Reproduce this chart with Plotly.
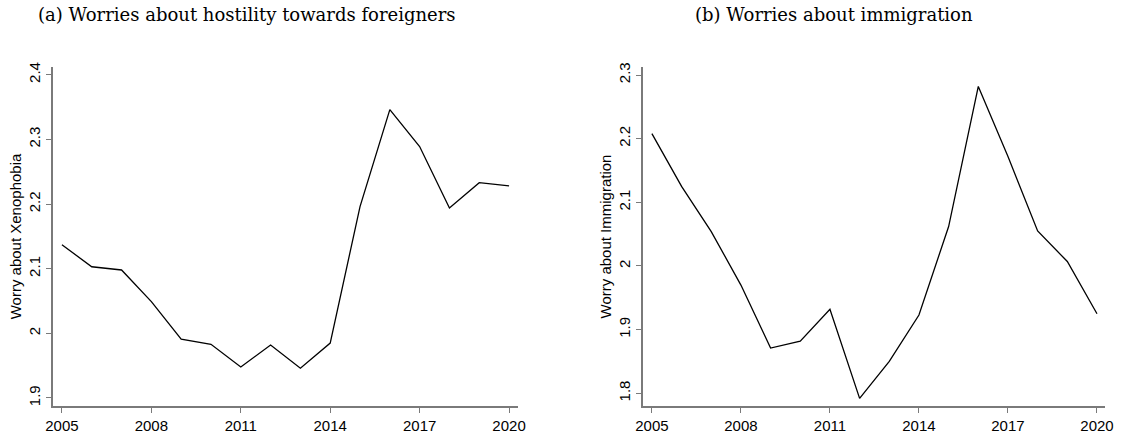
import plotly.graph_objects as go

# years on the x axis
years = list(range(2005, 2021))

# (a) worry about xenophobia
xeno = [2.137, 2.103, 2.098, 2.049, 1.991, 1.983, 1.948, 1.982,
        1.946, 1.985, 2.196, 2.346, 2.289, 2.194, 2.233, 2.228]

# (b) worry about immigration
immig = [2.208, 2.125, 2.054, 1.970, 1.871, 1.882, 1.932, 1.792,
         1.850, 1.923, 2.062, 2.282, 2.172, 2.055, 2.007, 1.925]

x_ticks = [2005, 2008, 2011, 2014, 2017, 2020]
y_ticks_a = [1.9, 2.0, 2.1, 2.2, 2.3, 2.4]
y_ticks_b = [1.8, 1.9, 2.0, 2.1, 2.2, 2.3]
y_labels_a = ["1.9", "2", "2.1", "2.2", "2.3", "2.4"]
y_labels_b = ["1.8", "1.9", "2", "2.1", "2.2", "2.3"]

W, H = 1132, 435
axis_col = "#7a7a7a"
sans = "Liberation Sans, Arial, sans-serif"
serif = "DejaVu Serif, serif"

fig = go.Figure()
fig.add_trace(go.Scatter(x=years, y=xeno, mode="lines", xaxis="x", yaxis="y",
                         line=dict(color="black", width=1.3), showlegend=False))
fig.add_trace(go.Scatter(x=years, y=immig, mode="lines", xaxis="x2", yaxis="y2",
                         line=dict(color="black", width=1.3), showlegend=False))

common_x = dict(tickmode="array", tickvals=x_ticks, ticks="outside", ticklen=5,
                tickcolor=axis_col, showline=True, linecolor=axis_col, linewidth=1.5,
                showgrid=False, zeroline=False, automargin=False,
                tickfont=dict(family=sans, size=15, color="black"))
common_y = dict(tickmode="array", ticks="outside", ticklen=5, tickangle=-90,
                tickcolor=axis_col, showline=True, linecolor=axis_col, linewidth=1.5,
                showgrid=False, zeroline=False, automargin=False,
                tickfont=dict(family=sans, size=15, color="black"),
                title_font=dict(family=sans, size=15, color="black"), title_standoff=1)

# plot areas in pixels (left, right, top, bottom)
box_a = (53, 518, 67, 406)
box_b = (643, 1105, 67, 406)

def xdom(b):
    return [b[0] / W, b[1] / W]

def ydom(b):
    return [1 - b[3] / H, 1 - b[2] / H]

fig.update_layout(
    width=W, height=H,
    margin=dict(l=0, r=0, t=0, b=0),
    paper_bgcolor="white", plot_bgcolor="white",
    xaxis=dict(domain=xdom(box_a), range=[2004.70, 2020.30], anchor="y", **common_x),
    xaxis2=dict(domain=xdom(box_b), range=[2004.70, 2020.27], anchor="y2", **common_x),
    yaxis=dict(domain=ydom(box_a), range=[1.8876, 2.412], anchor="x",
               tickvals=y_ticks_a, ticktext=y_labels_a,
               title_text="Worry about Xenophobia", **common_y),
    yaxis2=dict(domain=ydom(box_b), range=[1.780, 2.3126], anchor="x2",
                tickvals=y_ticks_b, ticktext=y_labels_b,
                title_text="Worry about Immigration", **common_y),
    annotations=[
        dict(text="(a) Worries about hostility towards foreigners", x=247 / W, y=1 - 14 / H,
             xref="paper", yref="paper", showarrow=False, xanchor="center", yanchor="middle",
             font=dict(family=serif, size=18, color="black")),
        dict(text="(b) Worries about immigration", x=834 / W, y=1 - 14 / H,
             xref="paper", yref="paper", showarrow=False, xanchor="center", yanchor="middle",
             font=dict(family=serif, size=18, color="black")),
    ],
)

fig.write_html("out.html", config={"displayModeBar": False},
               post_script="document.body.style.margin='0px';")
